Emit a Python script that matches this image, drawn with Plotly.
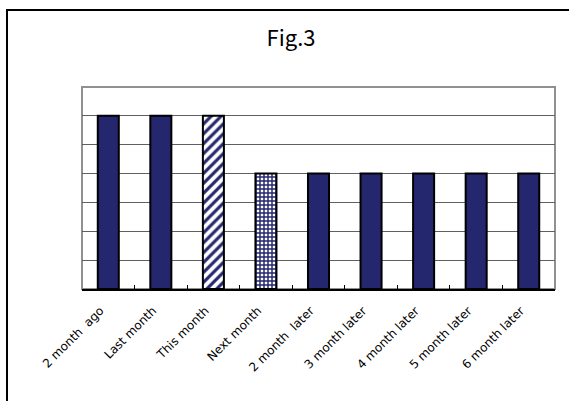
import plotly.graph_objects as go

categories = ["2 month\u00a0\u00a0ago", "Last month", "This month", "Next month",
              "2 month\u00a0\u00a0later", "3 month later", "4 month later",
              "5 month later", "6 month later"]
values = [6, 6, 6, 4, 4, 4, 4, 4, 4]
patterns = ["", "", "/", "+", "", "", "", "", ""]
title_text = "Fig.3"

W, H = 569, 401
ml, mr, mt, mb = 82, 14, 87, 112
pw, ph = W - ml - mr, H - mt - mb

navy = "#25276E"

fig = go.Figure()
fig.add_trace(go.Bar(
    x=categories, y=values,
    marker=dict(
        color=navy,
        line=dict(color="black", width=2),
        pattern=dict(shape=patterns, fgcolor=navy, bgcolor="white",
                     fgopacity=1,
                     size=[7, 7, 7, 4, 7, 7, 7, 7, 7],
                     solidity=[0.45, 0.45, 0.45, 0.6, 0.45, 0.45, 0.45, 0.45, 0.45],
                     fillmode="replace"),
    ),
    width=0.4,
))

def px_to_paper_x(px):
    return (px - ml) / pw

def px_to_paper_y(py):
    return (H - mb - py) / ph

fig.update_layout(
    width=W, height=H,
    margin=dict(l=ml, r=mr, t=mt, b=mb),
    paper_bgcolor="white", plot_bgcolor="white",
    showlegend=False,
    font=dict(family="DejaVu Sans, sans-serif", color="black"),
    title=dict(text=title_text, x=291 / W, xanchor="center",
               y=1 - 38 / H, yanchor="middle",
               font=dict(size=22, family="Noto Sans CJK JP, sans-serif")),
    xaxis=dict(
        tickangle=-45, tickfont=dict(size=12, family="DejaVu Sans, sans-serif"),
        ticks="inside", ticklen=4, tickcolor="black", tickwidth=1,
        tickson="boundaries",
        ticklabelshift=-8, ticklabelstandoff=8,
        showline=True, linecolor="black", linewidth=2,
        showgrid=False,
    ),
    yaxis=dict(
        range=[0, 7], dtick=1, showticklabels=False,
        showgrid=True, gridcolor="#606060", gridwidth=1,
        showline=False, zeroline=False,
    ),
    shapes=[
        dict(type="rect", xref="paper", yref="paper", x0=0, x1=1, y0=0, y1=1,
             line=dict(color="#909090", width=2), layer="below"),
        dict(type="rect", xref="paper", yref="paper",
             x0=px_to_paper_x(7), x1=px_to_paper_x(590),
             y0=px_to_paper_y(420), y1=px_to_paper_y(10),
             line=dict(color="black", width=2)),
    ],
)

fig.write_html("out.html",
               config={"displayModeBar": False},
               post_script="document.body.style.margin='0';document.body.style.overflow='hidden';")
